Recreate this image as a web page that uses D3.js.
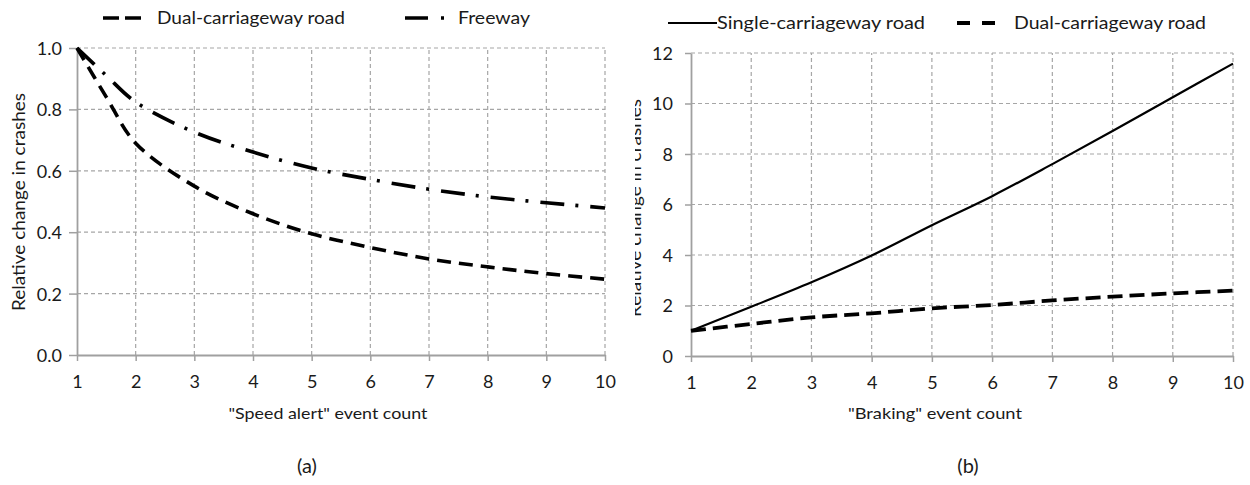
<!DOCTYPE html>
<html>
<head>
<meta charset="utf-8">
<script src="https://cdn.jsdelivr.net/npm/d3@7"></script>
<style>
  html, body { margin: 0; padding: 0; background: #fff; }
  svg { display: block; }
  text { font-family: Lato, "Open Sans", sans-serif; fill: #1a1a1a; }
</style>
</head>
<body>
<svg id="chart" width="1250" height="485"></svg>
<script>
// Event counts shared by both panels
const eventCounts = [1, 1.5, 2, 3, 4, 5, 6, 7, 8, 9, 10];
const countsB = [1, 2, 3, 4, 5, 6, 7, 8, 9, 10];

// Panel (a): "Speed alert" events
const speedDual    = [1.0, 0.84, 0.69, 0.55, 0.46, 0.395, 0.35, 0.313, 0.287, 0.265, 0.247];
const speedFreeway = [1.0, 0.91, 0.824, 0.726, 0.661, 0.609, 0.572, 0.54, 0.515, 0.496, 0.479];

// Panel (b): "Braking" events
const brakeSingle = [1.0, 1.95, 2.92, 3.98, 5.18, 6.33, 7.6, 8.91, 10.25, 11.58];
const brakeDual   = [1.0, 1.27, 1.53, 1.69, 1.89, 2.02, 2.2, 2.35, 2.48, 2.59];

const xTicks = [1, 2, 3, 4, 5, 6, 7, 8, 9, 10];
const yTicksA = [0, 0.2, 0.4, 0.6, 0.8, 1.0];
const yTicksB = [0, 2, 4, 6, 8, 10, 12];

const svg = d3.select("#chart");
const defs = svg.append("defs");

const GRID = "#a6a6a6";
const AXIS = "#a0a0a0";

function drawPanel(opt) {
  const g = svg.append("g");
  const x = d3.scaleLinear().domain([1, 10]).range(opt.xRange);
  const y = d3.scaleLinear().domain(opt.yDomain).range(opt.yRange);

  // dashed grid
  g.append("g").selectAll("line").data(xTicks.slice(1)).join("line")
    .attr("x1", d => x(d)).attr("x2", d => x(d))
    .attr("y1", y.range()[0]).attr("y2", y.range()[1])
    .attr("stroke", GRID).attr("stroke-width", 1.2).attr("stroke-dasharray", "4,3");
  g.append("g").selectAll("line").data(opt.yTicks.slice(1)).join("line")
    .attr("x1", x.range()[0]).attr("x2", x.range()[1])
    .attr("y1", d => y(d)).attr("y2", d => y(d))
    .attr("stroke", GRID).attr("stroke-width", 1.2).attr("stroke-dasharray", "4,3");

  // axes
  const yAxis = g.append("g").attr("transform", `translate(${x.range()[0]},0)`)
    .call(d3.axisLeft(y).tickValues(opt.yTicks).tickFormat(opt.yFormat)
      .tickSizeInner(opt.yTickLen).tickSizeOuter(0).tickPadding(opt.yPad));
  const xAxis = g.append("g").attr("transform", `translate(0,${y.range()[0]})`)
    .call(d3.axisBottom(x).tickValues(xTicks).tickFormat(d3.format("d"))
      .tickSizeInner(6).tickSizeOuter(0).tickPadding(11));
  [yAxis, xAxis].forEach(a => {
    a.select(".domain").attr("stroke", AXIS).attr("stroke-width", 1.8);
    a.selectAll(".tick line").attr("stroke", AXIS).attr("stroke-width", 1.5);
    a.selectAll("text").style("font-family", "Lato, sans-serif").style("font-size", "18px").attr("fill", "#222");
  });
  xAxis.selectAll(".tick text").attr("dy", "0.9em");
  yAxis.selectAll(".tick text").attr("dy", "0.36em");

  // series
  opt.series.forEach(s => {
    const pts = s.xs.map((v, i) => [v, s.values[i]]);
    g.append("path").datum(pts)
      .attr("fill", "none").attr("stroke", "#000")
      .attr("stroke-width", s.width)
      .attr("stroke-dasharray", s.dash || null)
      .attr("d", d3.line().x(d => x(d[0])).y(d => y(d[1])).curve(d3.curveCatmullRom.alpha(0.5)));
  });

  // axis title (x)
  g.append("text").attr("x", opt.xTitleX).attr("y", 419)
    .attr("text-anchor", "middle").style("font-size", "16px")
    .attr("textLength", opt.xTitleLen).attr("lengthAdjust", "spacingAndGlyphs")
    .text(opt.xTitle);

  // axis title (y), optionally clipped on its left side
  const yt = g.append("text")
    .attr("transform", `translate(${opt.yTitleX},${opt.yTitleY}) rotate(-90)`)
    .attr("text-anchor", "middle").style("font-size", "17px")
    .attr("textLength", 218).attr("lengthAdjust", "spacingAndGlyphs")
    .text("Relative change in crashes");
  if (opt.yTitleClip) {
    const id = "clip-" + opt.label.replace(/\W/g, "");
    defs.append("clipPath").attr("id", id).append("rect")
      .attr("x", opt.yTitleClip).attr("y", 0).attr("width", 100).attr("height", 485);
    const wrap = g.append("g").attr("clip-path", `url(#${id})`);
    wrap.node().appendChild(yt.node());
  }

  // panel label
  g.append("text").attr("x", opt.labelX).attr("y", 473)
    .attr("text-anchor", "middle").style("font-size", "20px").text(opt.label);

  // legend
  opt.legend.forEach(l => {
    g.append("line").attr("x1", l.x1).attr("x2", l.x2).attr("y1", l.y).attr("y2", l.y)
      .attr("stroke", "#000").attr("stroke-width", l.width).attr("stroke-dasharray", l.dash || null);
    g.append("text").attr("x", l.tx).attr("y", l.y).attr("dy", "0.35em")
      .style("font-size", "18px")
      .attr("textLength", l.tlen).attr("lengthAdjust", "spacingAndGlyphs")
      .text(l.text);
  });
}

drawPanel({
  label: "(a)", labelX: 307,
  xRange: [77, 605], yRange: [355, 48], yDomain: [0, 1],
  yTicks: yTicksA, yFormat: d3.format(".1f"), yTickLen: 8, yPad: 7,
  xTitle: "\"Speed alert\" event count", xTitleX: 328, xTitleLen: 199,
  yTitleX: 25, yTitleY: 202,
  series: [
    { xs: eventCounts, values: speedDual, width: 3.6, dash: "14,8" },
    { xs: eventCounts, values: speedFreeway, width: 3.6, dash: "24,11,3,12" }
  ],
  legend: [
    { x1: 103, x2: 141, y: 18, width: 3.6, dash: "16,6", tx: 157, tlen: 188, text: "Dual-carriageway road" },
    { x1: 405, x2: 446, y: 18, width: 3.6, dash: "23,13,3,20", tx: 458, tlen: 72, text: "Freeway" }
  ]
});

drawPanel({
  label: "(b)", labelX: 968,
  xRange: [691, 1233], yRange: [356, 53], yDomain: [0, 12],
  yTicks: yTicksB, yFormat: d3.format("d"), yTickLen: 6, yPad: 12,
  xTitle: "\"Braking\" event count", xTitleX: 935, xTitleLen: 174,
  yTitleX: 641, yTitleY: 208, yTitleClip: 635,
  series: [
    { xs: countsB, values: brakeSingle, width: 2.2 },
    { xs: countsB, values: brakeDual, width: 3.8, dash: "15,7" }
  ],
  legend: [
    { x1: 668, x2: 717, y: 23, width: 2.2, tx: 717, tlen: 208, text: "Single-carriageway road" },
    { x1: 957, x2: 996, y: 23, width: 3.8, dash: "13,12", tx: 1014, tlen: 192, text: "Dual-carriageway road" }
  ]
});
</script>
</body>
</html>
